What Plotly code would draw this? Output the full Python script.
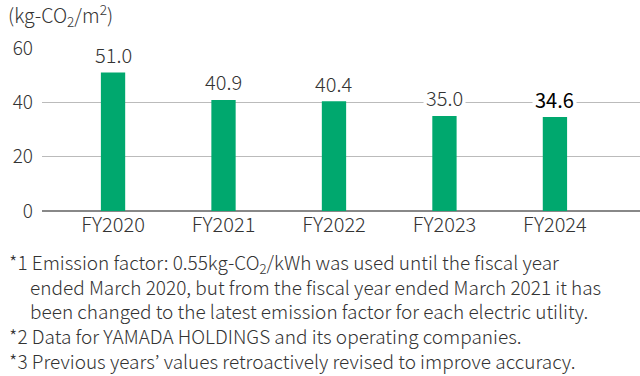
import plotly.graph_objects as go

categories = ["FY2020", "FY2021", "FY2022", "FY2023", "FY2024"]
values = [51.0, 40.9, 40.4, 35.0, 34.6]
value_labels = ["51.0", "40.9", "40.4", "35.0", "34.6"]
label_colors = ["#333333", "#333333", "#333333", "#333333", "#000000"]
y_ticks = [0, 20, 40, 60]
unit_label = "(kg-CO<sub>2</sub>/m<sup>2</sup>)"
INDENT = "&nbsp;" * 5
footnote_lines = [
    "*1 Emission factor: 0.55kg-CO<sub>2</sub>/kWh was used until the fiscal year",
    INDENT + "ended March 2020, but from the fiscal year ended March 2021 it has",
    INDENT + "been changed to the latest emission factor for each electric utility.",
    "*2 Data for YAMADA HOLDINGS and its operating companies.",
    "*3 Previous years’ values retroactively revised to improve accuracy.",
]

FONT = "Noto Sans CJK JP"
WT = 300
W, H = 640, 376
ML, MR, MT, MB = 42, 0, 48, 165
plot_w = W - ML - MR
plot_h = H - MT - MB

fig = go.Figure()
fig.add_trace(go.Bar(
    x=list(range(len(categories))), y=values,
    marker=dict(color="#00a86e", line=dict(width=0)),
    width=0.22, hoverinfo="skip",
))

for i, (v, t, c) in enumerate(zip(values, value_labels, label_colors)):
    fig.add_annotation(x=i, y=v, text=t, showarrow=False, xref="x", yref="y",
                       yanchor="middle", yshift=18, bgcolor="white",
                       borderpad=2,
                       font=dict(family=FONT, size=20, color=c,
                                 weight=400 if c == "#000000" else WT))

fig.add_annotation(x=(6 - ML) / plot_w, y=1 + (MT - 15) / plot_h, xref="paper", yref="paper",
                   xanchor="left", yanchor="middle", text=unit_label, showarrow=False,
                   font=dict(family=FONT, size=19.5, color="#333333", weight=WT))

fig.add_annotation(x=(8 - ML) / plot_w, y=(H - MB - 311) / plot_h,
                   xref="paper", yref="paper", xanchor="left", yanchor="middle",
                   align="left", text="<br>".join(footnote_lines), showarrow=False,
                   borderpad=0,
                   font=dict(family=FONT, size=19, color="#333333", weight=WT))

fig.update_layout(
    width=W, height=H,
    margin=dict(l=ML, r=MR, t=MT, b=MB),
    paper_bgcolor="white", plot_bgcolor="white",
    showlegend=False,
    font=dict(family=FONT, color="#333333", weight=WT),
    xaxis=dict(range=[-0.643, 4.77], tickmode="array",
               tickvals=list(range(len(categories))), ticktext=categories,
               showgrid=False, zeroline=False, showline=False, ticks="",
               tickfont=dict(family=FONT, size=20, color="#333333", weight=WT)),
    yaxis=dict(range=[0, 60], tickmode="array", tickvals=y_ticks,
               showgrid=True, gridcolor="#bbbbbb", gridwidth=1,
               zeroline=True, zerolinecolor="#888888", zerolinewidth=1.5,
               showline=False, ticks="", ticklabelstandoff=8,
               tickfont=dict(family=FONT, size=19, color="#333333", weight=WT)),
)

fig.write_html("out.html", config={"displayModeBar": False},
               post_script="document.body.style.margin='0';")
